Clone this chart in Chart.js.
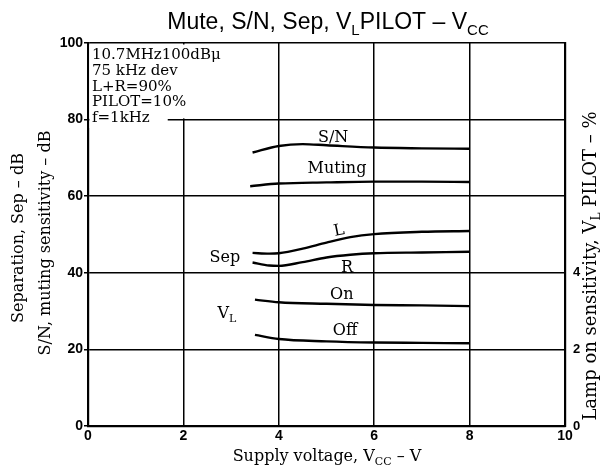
<!DOCTYPE html>
<html>
<head>
<meta charset="utf-8">
<script src="https://cdn.jsdelivr.net/npm/chart.js@4.4.0/dist/chart.umd.min.js"></script>
<style>
  html, body { margin: 0; padding: 0; background: #fff; }
</style>
</head>
<body>
<canvas id="chart" width="600" height="471"></canvas>
<script>
// Supply voltage (V) sample points and measured curves
const snX = [3.45, 4, 4.5, 5, 6, 7, 8];
const snY = [71.4, 73.1, 73.6, 73.3, 72.7, 72.5, 72.4];           // S/N, dB

const muteX = [3.4, 4, 5, 6, 7, 8];
const muteY = [62.6, 63.3, 63.6, 63.8, 63.8, 63.7];               // muting sensitivity, dB

const sepX = [3.45, 3.8, 4, 4.5, 5, 5.5, 6, 7, 8];
const sepL = [45.2, 45.0, 45.1, 46.3, 47.9, 49.3, 50.1, 50.7, 50.9]; // separation L, dB
const sepR = [42.7, 41.9, 41.8, 42.8, 44.0, 44.7, 45.1, 45.3, 45.5]; // separation R, dB

const vlX = [3.5, 4, 5, 6, 7, 8];
const vlOn = [3.30, 3.23, 3.19, 3.16, 3.15, 3.13];                // lamp on, % pilot
const vlOff = [2.38, 2.27, 2.21, 2.18, 2.17, 2.16];               // lamp off, % pilot

const xTicks = [0, 2, 4, 6, 8, 10];
const leftTicks = [0, 20, 40, 60, 80, 100];
const rightTicks = [0, 2, 4];

const conditions = ['10.7MHz100dB\u03bc', '75 kHz dev', 'L+R=90%', 'PILOT=10%', 'f=1kHz'];

const SERIF = '"DejaVu Serif", "Liberation Serif", serif';
const SANS = '"Liberation Sans", Arial, sans-serif';

const pts = (xs, ys) => xs.map((x, i) => ({ x, y: ys[i] }));

const curve = (data, axis) => ({
  data,
  yAxisID: axis,
  borderColor: '#000',
  borderWidth: 2.4,
  pointRadius: 0,
  fill: false,
  cubicInterpolationMode: 'monotone',
});

// text with subscript pieces: parts = [[text, isSub], ...]
function richText(ctx, parts, x, y, size, family, angle = 0, weight = '') {
  const big = `${weight} ${size}px ${family}`;
  const small = `${weight} ${Math.round(size * 0.66)}px ${family}`;
  let total = 0;
  const widths = parts.map(([t, sub]) => {
    ctx.font = sub ? small : big;
    const w = ctx.measureText(t).width;
    total += w;
    return w;
  });
  ctx.save();
  ctx.translate(x, y);
  ctx.rotate(angle);
  ctx.fillStyle = '#000';
  ctx.textAlign = 'left';
  ctx.textBaseline = 'alphabetic';
  let cx = -total / 2;
  parts.forEach(([t, sub], i) => {
    ctx.font = sub ? small : big;
    ctx.fillText(t, cx, sub ? size * 0.24 : 0);
    cx += widths[i];
  });
  ctx.restore();
}

// white condition box in the top-left corner, drawn over the grid
const conditionBox = {
  id: 'conditionBox',
  beforeDatasetsDraw(chart) {
    const { ctx, chartArea: a, scales: { x, y } } = chart;
    ctx.save();
    ctx.fillStyle = '#fff';
    ctx.fillRect(a.left + 1.5, a.top + 1.5, x.getPixelForValue(2.87) - a.left, y.getPixelForValue(80.7) - a.top);
    ctx.fillRect(a.left + 1.5, a.top + 1.5, x.getPixelForValue(1.64) - a.left, y.getPixelForValue(78.2) - a.top);
    ctx.fillStyle = '#000';
    ctx.font = `15px ${SERIF}`;
    ctx.textAlign = 'left';
    ctx.textBaseline = 'alphabetic';
    conditions.forEach((t, i) => ctx.fillText(t, a.left + 4, a.top + 16 + i * 15.8));
    ctx.restore();
  }
};

// curve names and all titles
const labels = {
  id: 'labels',
  afterDatasetsDraw(chart) {
    const { ctx, scales: { x, y } } = chart;
    const at = (vx, vy) => [x.getPixelForValue(vx), y.getPixelForValue(vy)];
    const put = (parts, vx, vy, angle = 0) => {
      const [px, py] = at(vx, vy);
      richText(ctx, parts, px, py + 5, 16, SERIF, angle);
    };
    put([['S\u2215N']], 5.14, 75.5);
    put([['Muting']], 5.22, 67.4);
    put([['L']], 5.28, 51.2, -0.2);
    put([['R']], 5.43, 41.5);
    put([['Sep']], 2.87, 44.1);
    put([['On']], 5.32, 34.5);
    put([['V'], ['L', 1]], 2.91, 29.5);
    put([['Off']], 5.39, 25.1);

    // chart title
    richText(ctx, [['Mute, S/N, Sep, V'], ['L', 1], ['PILOT \u2013 V'], ['CC', 1]], 328, 29, 23, SANS);
    // axis titles
    richText(ctx, [['Supply voltage, V'], ['CC', 1], [' \u2013 V']], 327, 461, 16, SERIF);
    richText(ctx, [['Separation, Sep \u2013 dB']], 23, 238, 16, SERIF, -Math.PI / 2);
    richText(ctx, [['S/N, muting sensitivity \u2013 dB']], 50, 243, 16, SERIF, -Math.PI / 2);
    richText(ctx, [['Lamp on sensitivity, V'], ['L', 1], [' PILOT \u2013 %']], 596, 266, 18, SERIF, -Math.PI / 2);
  }
};

new Chart(document.getElementById('chart'), {
  type: 'line',
  data: {
    datasets: [
      curve(pts(snX, snY), 'y'),
      curve(pts(muteX, muteY), 'y'),
      curve(pts(sepX, sepL), 'y'),
      curve(pts(sepX, sepR), 'y'),
      curve(pts(vlX, vlOn), 'y1'),
      curve(pts(vlX, vlOff), 'y1'),
    ],
  },
  options: {
    responsive: false,
    animation: false,
    layout: { padding: { top: 43, left: 0, right: 0, bottom: 0 } },
    plugins: {
      legend: { display: false },
      tooltip: { enabled: false },
    },
    scales: {
      x: {
        type: 'linear',
        min: 0,
        max: 10,
        afterFit: s => { s.height = 45; },
        afterBuildTicks: s => { s.ticks = xTicks.map(v => ({ value: v })); },
        grid: { color: '#000', lineWidth: 1.5, drawTicks: false },
        border: { display: true, color: '#000', width: 2.2 },
        ticks: {
          color: '#000',
          padding: 2,
          maxRotation: 0,
          font: { family: SANS, size: 14, weight: 'bold' },
        },
      },
      y: {
        position: 'left',
        min: 0,
        max: 100,
        afterFit: s => { s.width = 88; },
        afterBuildTicks: s => { s.ticks = leftTicks.map(v => ({ value: v })); },
        grid: { color: '#000', lineWidth: 1.5, tickLength: 4 },
        border: { display: true, color: '#000', width: 2.2 },
        ticks: {
          color: '#000',
          padding: 1,
          font: { family: SANS, size: 14, weight: 'bold' },
        },
      },
      y1: {
        position: 'right',
        min: 0,
        max: 10,
        afterFit: s => { s.width = 35; },
        afterBuildTicks: s => { s.ticks = rightTicks.map(v => ({ value: v })); },
        grid: { display: false },
        border: { display: true, color: '#000', width: 2.2 },
        ticks: {
          color: '#000',
          padding: 0,
          font: { family: SANS, size: 13, weight: 'bold' },
        },
      },
    },
  },
  plugins: [conditionBox, labels],
});
</script>
</body>
</html>
